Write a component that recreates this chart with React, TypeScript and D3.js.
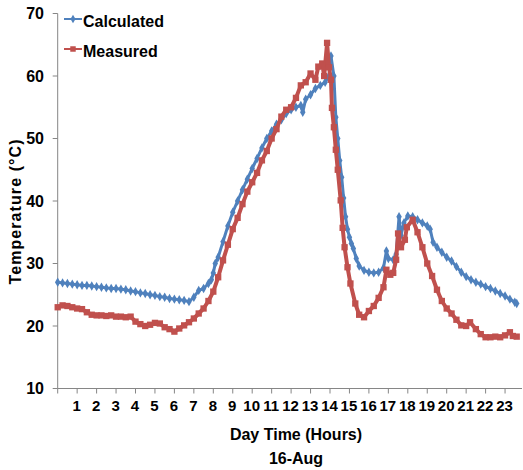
import React, { useRef, useEffect } from "react";
import * as d3 from "d3";

const blueColor = "#4F81BD";
const redColor = "#C0504D";
const axisColor = "#868686";
const FONT = "'Liberation Sans Narrow', 'Arial Narrow', 'Liberation Sans', sans-serif";

// calculated temperature (hour, °C)
const calcHours = [
  0, 0.25, 0.5, 0.75, 1, 1.25, 1.5, 1.75, 2, 2.25, 2.5, 2.75, 3, 3.25, 3.5, 3.75,
  4, 4.25, 4.5, 4.75, 5, 5.25, 5.5, 5.75, 6, 6.25, 6.5, 6.75, 7, 7.25, 7.5, 7.75,
  7.9, 8, 8.1, 8.25, 8.5, 8.75, 9, 9.25, 9.5, 9.75, 10, 10.25, 10.5, 10.75, 11,
  11.25, 11.5, 11.75, 12, 12.25, 12.5, 12.6, 12.75, 13, 13.25, 13.5, 13.75, 13.95,
  14.05, 14.2, 14.3, 14.4, 14.5, 14.6, 14.7, 14.8, 14.9, 15, 15.1, 15.2, 15.35,
  15.5, 15.75, 16, 16.25, 16.5, 16.75, 16.9, 17, 17.25, 17.4, 17.55, 17.65, 17.8,
  18, 18.25, 18.5, 18.75, 19, 19.15, 19.3, 19.5, 19.75, 20, 20.25, 20.5, 20.75,
  21, 21.25, 21.5, 21.75, 22, 22.25, 22.5, 22.75, 23, 23.25, 23.5, 23.6,
];
const calcTemps = [
  27.0, 26.9, 26.8, 26.7, 26.6, 26.5, 26.5, 26.4, 26.3, 26.2, 26.1, 26.0, 26.0, 25.9, 25.8, 25.6,
  25.5, 25.3, 25.2, 25.0, 24.9, 24.7, 24.6, 24.4, 24.3, 24.2, 24.1, 23.9, 24.6, 25.7, 26.0, 26.8,
  27.4, 28.5, 30.0, 31.0, 33.5, 36.0, 38.2, 40.0, 41.8, 43.5, 45.2, 46.8, 48.5, 50.0, 51.2,
  52.3, 53.0, 54.0, 54.6, 55.0, 55.3, 54.2, 56.3, 57.0, 58.0, 58.5, 59.0, 60.0,
  63.2, 60.0, 53.4, 50.0, 46.5, 43.8, 40.5, 37.5, 35.5, 34.2, 33.2, 32.4, 30.8,
  29.6, 28.9, 28.6, 28.5, 28.6, 29.3, 32.0, 30.8, 30.6, 31.5, 37.5, 34.5, 36.5,
  37.6, 37.5, 37.0, 36.5, 36.0, 35.5, 33.4, 32.6, 31.8, 31.0, 30.4, 29.5, 28.6,
  27.9, 27.4, 27.0, 26.7, 26.3, 26.0, 25.6, 25.2, 24.8, 24.3, 23.8, 23.6,
];

// measured temperature (hour, °C)
const measHours = [
  0, 0.25, 0.5, 0.75, 1, 1.25, 1.5, 1.75, 2, 2.25, 2.5, 2.75, 3, 3.25, 3.5, 3.75,
  4, 4.25, 4.5, 4.75, 5, 5.25, 5.5, 5.75, 6, 6.25, 6.5, 6.75, 7, 7.25, 7.5, 7.75,
  8, 8.25, 8.5, 8.75, 9, 9.25, 9.5, 9.75, 10, 10.25, 10.5, 10.75, 11, 11.25, 11.5,
  11.75, 12, 12.25, 12.5, 12.75, 13, 13.25, 13.4, 13.6, 13.7, 13.85, 13.95, 14.05,
  14.1, 14.2, 14.3, 14.4, 14.55, 14.65, 14.75, 14.9, 15.05, 15.3, 15.5, 15.75, 16,
  16.25, 16.5, 16.75, 16.9, 17.1, 17.25, 17.4, 17.5, 17.65, 17.85, 17.95, 18.25,
  18.5, 18.75, 19, 19.25, 19.5, 19.75, 20, 20.25, 20.5, 20.75, 21, 21.2, 21.5,
  21.75, 22, 22.25, 22.5, 22.75, 23, 23.25, 23.4, 23.6,
];
const measTemps = [
  23.0, 23.3, 23.2, 23.0, 22.8, 22.7, 22.2, 21.8, 21.7, 21.7, 21.6, 21.7, 21.5, 21.5, 21.4, 21.5,
  20.7, 20.3, 20.0, 20.2, 20.5, 20.4, 19.8, 19.5, 19.1, 19.6, 20.1, 20.6, 21.2, 22.0, 22.8, 24.0,
  25.5, 27.8, 30.5, 33.0, 35.5, 37.3, 39.5, 41.5, 43.0, 44.5, 46.5, 48.0, 50.0, 51.5, 53.5,
  54.6, 55.0, 56.5, 58.5, 59.0, 60.4, 59.4, 61.5, 62.0, 60.0, 65.3, 61.4, 59.4,
  54.9, 51.8, 48.2, 45.0, 40.1, 35.7, 32.6, 29.4, 26.8, 23.6, 21.8, 21.4, 22.4,
  23.2, 24.5, 26.2, 29.0, 28.2, 28.5, 30.6, 34.8, 32.6, 33.8, 35.8, 37.0,
  35.0, 32.6, 30.0, 28.0, 25.8, 24.0, 22.8, 22.0, 21.0, 20.1, 20.0, 20.6, 19.5,
  18.7, 18.2, 18.2, 18.3, 18.2, 18.5, 19.0, 18.4, 18.3,
];

const yTicks = [10, 20, 30, 40, 50, 60, 70];
const hourTicks = d3.range(0, 24);
const hourLabels = d3.range(1, 24).map(String);

const App = () => {
  const svgRef = useRef(null);

  useEffect(() => {
    const svg = d3.select(svgRef.current);
    svg.selectAll("*").remove();

    const xScale = d3.scaleLinear().domain([0, 24]).range([57.7, 524.5]);
    const yScale = d3.scaleLinear().domain([10, 70]).range([388.5, 13.5]);

    // axes
    svg
      .append("line")
      .attr("x1", xScale(0))
      .attr("x2", xScale(0))
      .attr("y1", yScale(70))
      .attr("y2", yScale(10))
      .attr("stroke", axisColor);
    svg
      .append("line")
      .attr("x1", xScale(0))
      .attr("x2", 522)
      .attr("y1", yScale(10))
      .attr("y2", yScale(10))
      .attr("stroke", axisColor);

    yTicks.forEach((t) => {
      svg
        .append("line")
        .attr("x1", xScale(0) - 5)
        .attr("x2", xScale(0))
        .attr("y1", yScale(t))
        .attr("y2", yScale(t))
        .attr("stroke", axisColor);
      svg
        .append("text")
        .attr("x", 44)
        .attr("y", yScale(t) + 5.5)
        .attr("text-anchor", "end")
        .attr("font-family", FONT)
        .attr("font-weight", "bold")
        .attr("font-size", 16)
        .attr("fill", "#000")
        .text(t);
    });

    hourTicks.forEach((h) => {
      svg
        .append("line")
        .attr("x1", xScale(h))
        .attr("x2", xScale(h))
        .attr("y1", yScale(10))
        .attr("y2", yScale(10) + 5)
        .attr("stroke", axisColor);
    });
    hourLabels.forEach((lab, i) => {
      svg
        .append("text")
        .attr("x", xScale(i + 1) - 0.5)
        .attr("y", 411)
        .attr("text-anchor", "middle")
        .attr("font-family", FONT)
        .attr("font-weight", "bold")
        .attr("font-size", 15)
        .attr("fill", "#000")
        .text(lab);
    });

    // titles
    svg
      .append("text")
      .attr("x", 296)
      .attr("y", 440)
      .attr("text-anchor", "middle")
      .attr("font-family", FONT)
      .attr("font-weight", "bold")
      .attr("font-size", 16)
      .text("Day Time (Hours)");
    svg
      .append("text")
      .attr("x", 296)
      .attr("y", 464)
      .attr("text-anchor", "middle")
      .attr("font-family", FONT)
      .attr("font-weight", "bold")
      .attr("font-size", 16)
      .text("16-Aug");
    svg
      .append("text")
      .attr("transform", "translate(21,212) rotate(-90)")
      .attr("text-anchor", "middle")
      .attr("font-family", FONT)
      .attr("font-weight", "bold")
      .attr("font-size", 16)
      .attr("textLength", 145)
      .attr("lengthAdjust", "spacing")
      .text("Temperature (°C)");

    const line = d3
      .line()
      .x((d) => xScale(d[0]))
      .y((d) => yScale(d[1]));

    const calcData = calcHours.map((h, i) => [h, calcTemps[i]]);
    const measData = measHours.map((h, i) => [h, measTemps[i]]);

    const series = [
      { data: calcData, color: blueColor, symbol: d3.symbolDiamond, size: 26, width: 3 },
      { data: measData, color: redColor, symbol: d3.symbolSquare, size: 40, width: 4 },
    ];

    series.forEach((s) => {
      svg
        .append("path")
        .datum(s.data)
        .attr("fill", "none")
        .attr("stroke", s.color)
        .attr("stroke-width", s.width)
        .attr("stroke-linejoin", "round")
        .attr("d", line);
      svg
        .append("g")
        .selectAll("path")
        .data(s.data)
        .join("path")
        .attr("transform", (d) => `translate(${xScale(d[0])},${yScale(d[1])})`)
        .attr("d", d3.symbol().type(s.symbol).size(s.size))
        .attr("fill", s.color);
    });

    // legend
    const legend = [
      { name: "Calculated", color: blueColor, symbol: d3.symbolDiamond, size: 22, y: 19 },
      { name: "Measured", color: redColor, symbol: d3.symbolSquare, size: 30, y: 49 },
    ];
    legend.forEach((l) => {
      svg
        .append("line")
        .attr("x1", 64)
        .attr("x2", 82)
        .attr("y1", l.y)
        .attr("y2", l.y)
        .attr("stroke", l.color)
        .attr("stroke-width", 2);
      svg
        .append("path")
        .attr("transform", `translate(73,${l.y})`)
        .attr("d", d3.symbol().type(l.symbol).size(l.size))
        .attr("fill", l.color);
      svg
        .append("text")
        .attr("x", 83)
        .attr("y", l.y + 8)
        .attr("font-family", FONT)
        .attr("font-weight", "bold")
        .attr("font-size", 16)
        .attr("fill", "#000")
        .text(l.name);
    });
  }, []);

  return (
    <svg
      ref={svgRef}
      width={523}
      height={470}
      style={{ position: "absolute", left: 0, top: 0, background: "#fff" }}
    />
  );
};

export default App;
